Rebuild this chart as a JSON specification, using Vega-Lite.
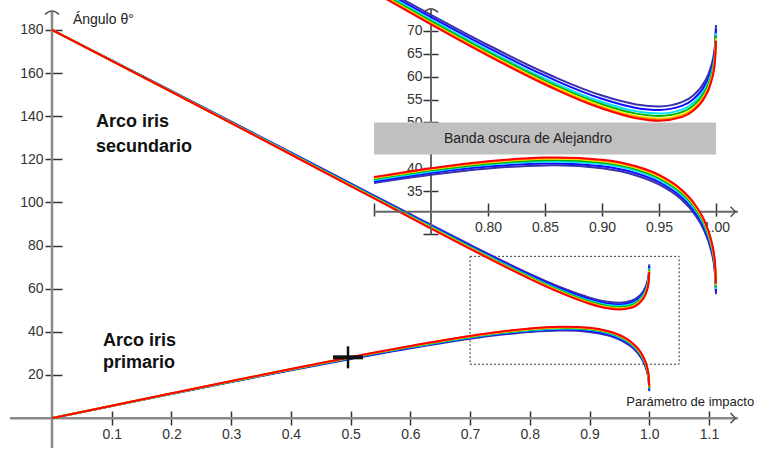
{
  "$schema": "https://vega.github.io/schema/vega-lite/v6.json",
  "width": 758,
  "height": 450,
  "autosize": {"type": "fit", "contains": "padding"},
  "padding": 0,
  "background": "white",
  "config": {
    "view": {"stroke": null},
    "font": "Liberation Sans",
    "axis": {"grid": false, "domain": false, "labelFont": "Liberation Sans", "labelFontSize": 14, "labelColor": "#333333", "tickColor": "#333333", "tickWidth": 1.5, "labelFlush": false, "labelOverlap": false}
  },
  "datasets": {
    "curves": [
      {"c":"violet","b":0,"p":0,"s":180},{"c":"violet","b":0.1,"p":5.60,"s":165.86},{"c":"violet","b":0.2,"p":11.18,"s":151.69},{"c":"violet","b":0.3,"p":16.71,"s":137.47},{"c":"violet","b":0.4,"p":22.15,"s":123.20},{"c":"violet","b":0.5,"p":27.42,"s":108.86},{"c":"violet","b":0.6,"p":32.40,"s":94.53},{"c":"violet","b":0.7,"p":36.79,"s":80.38},{"c":"violet","b":0.75,"p":38.60,"s":73.50},{"c":"violet","b":0.8,"p":39.97,"s":66.91},{"c":"violet","b":0.85,"p":40.62,"s":60.85},{"c":"violet","b":0.86,"p":40.63,"s":59.74},{"c":"violet","b":0.9,"p":39.98,"s":55.87},{"c":"violet","b":0.93,"p":38.42,"s":53.94},{"c":"violet","b":0.95,"p":36.46,"s":53.51},{"c":"violet","b":0.97,"p":33.09,"s":54.44},{"c":"violet","b":0.98,"p":30.38,"s":55.90},{"c":"violet","b":0.99,"p":26.16,"s":58.88},{"c":"violet","b":0.995,"p":22.67,"s":61.73},{"c":"violet","b":0.999,"p":17.35,"s":66.54},{"c":"violet","b":1.0,"p":12.48,"s":71.29},
      {"c":"blue","b":0,"p":0,"s":180},{"c":"blue","b":0.1,"p":5.64,"s":165.80},{"c":"blue","b":0.2,"p":11.26,"s":151.57},{"c":"blue","b":0.3,"p":16.83,"s":137.30},{"c":"blue","b":0.4,"p":22.31,"s":122.95},{"c":"blue","b":0.5,"p":27.63,"s":108.55},{"c":"blue","b":0.6,"p":32.66,"s":94.14},{"c":"blue","b":0.7,"p":37.11,"s":79.91},{"c":"blue","b":0.75,"p":38.96,"s":72.98},{"c":"blue","b":0.8,"p":40.36,"s":66.33},{"c":"blue","b":0.85,"p":41.05,"s":60.21},{"c":"blue","b":0.86,"p":41.06,"s":59.09},{"c":"blue","b":0.9,"p":40.45,"s":55.17},{"c":"blue","b":0.93,"p":38.92,"s":53.18},{"c":"blue","b":0.95,"p":36.98,"s":52.73},{"c":"blue","b":0.97,"p":33.63,"s":53.62},{"c":"blue","b":0.98,"p":30.94,"s":55.07},{"c":"blue","b":0.99,"p":26.73,"s":58.02},{"c":"blue","b":0.995,"p":23.25,"s":60.87},{"c":"blue","b":0.999,"p":17.93,"s":65.67},{"c":"blue","b":1.0,"p":13.06,"s":70.41},
      {"c":"cyan","b":0,"p":0,"s":180},{"c":"cyan","b":0.1,"p":5.68,"s":165.74},{"c":"cyan","b":0.2,"p":11.34,"s":151.46},{"c":"cyan","b":0.3,"p":16.95,"s":137.12},{"c":"cyan","b":0.4,"p":22.48,"s":122.71},{"c":"cyan","b":0.5,"p":27.84,"s":108.24},{"c":"cyan","b":0.6,"p":32.92,"s":93.75},{"c":"cyan","b":0.7,"p":37.43,"s":79.43},{"c":"cyan","b":0.75,"p":39.31,"s":72.45},{"c":"cyan","b":0.8,"p":40.75,"s":65.75},{"c":"cyan","b":0.85,"p":41.48,"s":59.57},{"c":"cyan","b":0.86,"p":41.50,"s":58.44},{"c":"cyan","b":0.9,"p":40.92,"s":54.46},{"c":"cyan","b":0.93,"p":39.43,"s":52.43},{"c":"cyan","b":0.95,"p":37.50,"s":51.94},{"c":"cyan","b":0.97,"p":34.18,"s":52.80},{"c":"cyan","b":0.98,"p":31.50,"s":54.23},{"c":"cyan","b":0.99,"p":27.30,"s":57.16},{"c":"cyan","b":0.995,"p":23.82,"s":60.00},{"c":"cyan","b":0.999,"p":18.51,"s":64.79},{"c":"cyan","b":1.0,"p":13.65,"s":69.53},
      {"c":"green","b":0,"p":0,"s":180},{"c":"green","b":0.1,"p":5.71,"s":165.70},{"c":"green","b":0.2,"p":11.39,"s":151.38},{"c":"green","b":0.3,"p":17.03,"s":137.00},{"c":"green","b":0.4,"p":22.58,"s":122.55},{"c":"green","b":0.5,"p":27.98,"s":108.03},{"c":"green","b":0.6,"p":33.09,"s":93.49},{"c":"green","b":0.7,"p":37.64,"s":79.11},{"c":"green","b":0.75,"p":39.54,"s":72.10},{"c":"green","b":0.8,"p":41.00,"s":65.36},{"c":"green","b":0.85,"p":41.76,"s":59.15},{"c":"green","b":0.86,"p":41.79,"s":58.00},{"c":"green","b":0.9,"p":41.24,"s":53.99},{"c":"green","b":0.93,"p":39.76,"s":51.93},{"c":"green","b":0.95,"p":37.85,"s":51.42},{"c":"green","b":0.97,"p":34.54,"s":52.25},{"c":"green","b":0.98,"p":31.88,"s":53.67},{"c":"green","b":0.99,"p":27.68,"s":56.59},{"c":"green","b":0.995,"p":24.21,"s":59.42},{"c":"green","b":0.999,"p":18.90,"s":64.21},{"c":"green","b":1.0,"p":14.04,"s":68.95},
      {"c":"yellow","b":0,"p":0,"s":180},{"c":"yellow","b":0.1,"p":5.73,"s":165.67},{"c":"yellow","b":0.2,"p":11.44,"s":151.30},{"c":"yellow","b":0.3,"p":17.11,"s":136.88},{"c":"yellow","b":0.4,"p":22.69,"s":122.38},{"c":"yellow","b":0.5,"p":28.12,"s":107.82},{"c":"yellow","b":0.6,"p":33.26,"s":93.23},{"c":"yellow","b":0.7,"p":37.85,"s":78.79},{"c":"yellow","b":0.75,"p":39.77,"s":71.75},{"c":"yellow","b":0.8,"p":41.26,"s":64.98},{"c":"yellow","b":0.85,"p":42.05,"s":58.72},{"c":"yellow","b":0.86,"p":42.08,"s":57.57},{"c":"yellow","b":0.9,"p":41.55,"s":53.51},{"c":"yellow","b":0.93,"p":40.09,"s":51.42},{"c":"yellow","b":0.95,"p":38.20,"s":50.89},{"c":"yellow","b":0.97,"p":34.91,"s":51.71},{"c":"yellow","b":0.98,"p":32.25,"s":53.11},{"c":"yellow","b":0.99,"p":28.06,"s":56.02},{"c":"yellow","b":0.995,"p":24.60,"s":58.84},{"c":"yellow","b":0.999,"p":19.29,"s":63.63},{"c":"yellow","b":1.0,"p":14.43,"s":68.36},
      {"c":"orange","b":0,"p":0,"s":180},{"c":"orange","b":0.1,"p":5.74,"s":165.65},{"c":"orange","b":0.2,"p":11.47,"s":151.26},{"c":"orange","b":0.3,"p":17.15,"s":136.82},{"c":"orange","b":0.4,"p":22.75,"s":122.30},{"c":"orange","b":0.5,"p":28.19,"s":107.72},{"c":"orange","b":0.6,"p":33.35,"s":93.10},{"c":"orange","b":0.7,"p":37.96,"s":78.63},{"c":"orange","b":0.75,"p":39.89,"s":71.57},{"c":"orange","b":0.8,"p":41.39,"s":64.78},{"c":"orange","b":0.85,"p":42.19,"s":58.51},{"c":"orange","b":0.86,"p":42.22,"s":57.35},{"c":"orange","b":0.9,"p":41.71,"s":53.28},{"c":"orange","b":0.93,"p":40.26,"s":51.17},{"c":"orange","b":0.95,"p":38.38,"s":50.63},{"c":"orange","b":0.97,"p":35.09,"s":51.43},{"c":"orange","b":0.98,"p":32.43,"s":52.83},{"c":"orange","b":0.99,"p":28.25,"s":55.73},{"c":"orange","b":0.995,"p":24.79,"s":58.55},{"c":"orange","b":0.999,"p":19.49,"s":63.33},{"c":"orange","b":1.0,"p":14.62,"s":68.07},
      {"c":"red","b":0,"p":0,"s":180},{"c":"red","b":0.1,"p":5.76,"s":165.63},{"c":"red","b":0.2,"p":11.49,"s":151.22},{"c":"red","b":0.3,"p":17.19,"s":136.76},{"c":"red","b":0.4,"p":22.80,"s":122.22},{"c":"red","b":0.5,"p":28.26,"s":107.61},{"c":"red","b":0.6,"p":33.44,"s":92.97},{"c":"red","b":0.7,"p":38.07,"s":78.47},{"c":"red","b":0.75,"p":40.01,"s":71.40},{"c":"red","b":0.8,"p":41.52,"s":64.59},{"c":"red","b":0.85,"p":42.33,"s":58.29},{"c":"red","b":0.86,"p":42.37,"s":57.13},{"c":"red","b":0.9,"p":41.87,"s":53.04},{"c":"red","b":0.93,"p":40.43,"s":50.92},{"c":"red","b":0.95,"p":38.55,"s":50.37},{"c":"red","b":0.97,"p":35.27,"s":51.16},{"c":"red","b":0.98,"p":32.62,"s":52.55},{"c":"red","b":0.99,"p":28.44,"s":55.45},{"c":"red","b":0.995,"p":24.98,"s":58.26},{"c":"red","b":0.999,"p":19.68,"s":63.04},{"c":"red","b":1.0,"p":14.82,"s":67.78}
    ],
    "one": [{}]
  },
  "layer": [
    {
      "layer": [
        {
          "data": {"name": "one"},
          "mark": {"type": "rule", "color": "#8a8a8a", "strokeWidth": 2.5},
          "encoding": {
            "x": {"datum": -0.0704, "type": "quantitative", "scale": {"domain": [-0.08706, 1.18205], "nice": false, "zero": false}, "axis": {"orient": "bottom", "offset": -37, "values": [0.1,0.2,0.3,0.4,0.5,0.6,0.7,0.8,0.9,1.0,1.1], "format": ".1f", "tickSize": 14, "labelPadding": 2, "title": null}},
            "x2": {"datum": 1.1486},
            "y": {"datum": 0, "type": "quantitative", "scale": {"domain": [-13.846, 193.846], "nice": false, "zero": false}, "axis": {"orient": "left", "offset": -62, "values": [20,40,60,80,100,120,140,160,180], "tickSize": 17, "labelPadding": 2, "title": null}}
          }
        },
        {
          "data": {"name": "one"},
          "mark": {"type": "rule", "color": "#8a8a8a", "strokeWidth": 2.5},
          "encoding": {
            "x": {"datum": 0, "type": "quantitative", "scale": {"domain": [-0.08706, 1.18205], "nice": false, "zero": false}, "axis": {"orient": "bottom", "offset": -37, "values": [0.1,0.2,0.3,0.4,0.5,0.6,0.7,0.8,0.9,1.0,1.1], "format": ".1f", "tickSize": 14, "labelPadding": 2, "title": null}},
            "y": {"datum": -13.846, "type": "quantitative", "scale": {"domain": [-13.846, 193.846], "nice": false, "zero": false}, "axis": {"orient": "left", "offset": -62, "values": [20,40,60,80,100,120,140,160,180], "tickSize": 17, "labelPadding": 2, "title": null}},
            "y2": {"datum": 188.3}
          }
        },
        {
          "data": {"name": "one"},
          "mark": {"type": "point", "shape": "M-1,0.5 Q0,-0.5 1,0.5", "size": 196, "filled": false, "stroke": "#555555", "strokeWidth": 1.5, "opacity": 1},
          "encoding": {
            "x": {"datum": 0, "type": "quantitative", "scale": {"domain": [-0.08706, 1.18205], "nice": false, "zero": false}, "axis": {"orient": "bottom", "offset": -37, "values": [0.1,0.2,0.3,0.4,0.5,0.6,0.7,0.8,0.9,1.0,1.1], "format": ".1f", "tickSize": 14, "labelPadding": 2, "title": null}},
            "y": {"datum": 188.77, "type": "quantitative", "scale": {"domain": [-13.846, 193.846], "nice": false, "zero": false}, "axis": {"orient": "left", "offset": -62, "values": [20,40,60,80,100,120,140,160,180], "tickSize": 17, "labelPadding": 2, "title": null}}
          }
        },
        {
          "data": {"name": "one"},
          "mark": {"type": "point", "shape": "M-0.5,-1 L0.5,0 L-0.5,1", "size": 100, "filled": false, "stroke": "#555555", "strokeWidth": 1.5, "opacity": 1},
          "encoding": {
            "x": {"datum": 1.1402, "type": "quantitative", "scale": {"domain": [-0.08706, 1.18205], "nice": false, "zero": false}, "axis": {"orient": "bottom", "offset": -37, "values": [0.1,0.2,0.3,0.4,0.5,0.6,0.7,0.8,0.9,1.0,1.1], "format": ".1f", "tickSize": 14, "labelPadding": 2, "title": null}},
            "y": {"datum": 0, "type": "quantitative", "scale": {"domain": [-13.846, 193.846], "nice": false, "zero": false}, "axis": {"orient": "left", "offset": -62, "values": [20,40,60,80,100,120,140,160,180], "tickSize": 17, "labelPadding": 2, "title": null}}
          }
        },
        {
          "data": {"name": "one"},
          "mark": {"type": "rect", "filled": false, "stroke": "#333333", "strokeWidth": 1, "strokeDash": [2, 2]},
          "encoding": {
            "x": {"datum": 0.7, "type": "quantitative", "scale": {"domain": [-0.08706, 1.18205], "nice": false, "zero": false}, "axis": {"orient": "bottom", "offset": -37, "values": [0.1,0.2,0.3,0.4,0.5,0.6,0.7,0.8,0.9,1.0,1.1], "format": ".1f", "tickSize": 14, "labelPadding": 2, "title": null}},
            "x2": {"datum": 1.05},
            "y": {"datum": 25, "type": "quantitative", "scale": {"domain": [-13.846, 193.846], "nice": false, "zero": false}, "axis": {"orient": "left", "offset": -62, "values": [20,40,60,80,100,120,140,160,180], "tickSize": 17, "labelPadding": 2, "title": null}},
            "y2": {"datum": 75}
          }
        },
        {
          "data": {"name": "curves"},
          "mark": {"type": "line", "strokeWidth": 2, "interpolate": "monotone", "clip": true},
          "encoding": {
            "x": {"field": "b", "type": "quantitative", "scale": {"domain": [-0.08706, 1.18205], "nice": false, "zero": false}, "axis": {"orient": "bottom", "offset": -37, "values": [0.1,0.2,0.3,0.4,0.5,0.6,0.7,0.8,0.9,1.0,1.1], "format": ".1f", "tickSize": 14, "labelPadding": 2, "title": null}},
            "y": {"field": "p", "type": "quantitative", "scale": {"domain": [-13.846, 193.846], "nice": false, "zero": false}, "axis": {"orient": "left", "offset": -62, "values": [20,40,60,80,100,120,140,160,180], "tickSize": 17, "labelPadding": 2, "title": null}},
            "color": {"field": "c", "type": "nominal", "legend": null, "scale": {"domain": ["violet","blue","cyan","green","yellow","orange","red"], "range": ["#3a32a8","#1010ff","#00e0ff","#00b400","#ffee00","#ff9000","#ff0000"]}}
          }
        },
        {
          "data": {"name": "curves"},
          "mark": {"type": "line", "strokeWidth": 2, "interpolate": "monotone", "clip": true},
          "encoding": {
            "x": {"field": "b", "type": "quantitative", "scale": {"domain": [-0.08706, 1.18205], "nice": false, "zero": false}, "axis": {"orient": "bottom", "offset": -37, "values": [0.1,0.2,0.3,0.4,0.5,0.6,0.7,0.8,0.9,1.0,1.1], "format": ".1f", "tickSize": 14, "labelPadding": 2, "title": null}},
            "y": {"field": "s", "type": "quantitative", "scale": {"domain": [-13.846, 193.846], "nice": false, "zero": false}, "axis": {"orient": "left", "offset": -62, "values": [20,40,60,80,100,120,140,160,180], "tickSize": 17, "labelPadding": 2, "title": null}},
            "color": {"field": "c", "type": "nominal", "legend": null, "scale": {"domain": ["violet","blue","cyan","green","yellow","orange","red"], "range": ["#3a32a8","#1010ff","#00e0ff","#00b400","#ffee00","#ff9000","#ff0000"]}}
          }
        },
        {
          "data": {"name": "one"},
          "mark": {"type": "point", "shape": "M-1,0 L1,0", "size": 900, "filled": false, "stroke": "#111111", "strokeWidth": 4, "opacity": 1},
          "encoding": {
            "x": {"datum": 0.4956, "type": "quantitative", "scale": {"domain": [-0.08706, 1.18205], "nice": false, "zero": false}, "axis": {"orient": "bottom", "offset": -37, "values": [0.1,0.2,0.3,0.4,0.5,0.6,0.7,0.8,0.9,1.0,1.1], "format": ".1f", "tickSize": 14, "labelPadding": 2, "title": null}},
            "y": {"datum": 28.2, "type": "quantitative", "scale": {"domain": [-13.846, 193.846], "nice": false, "zero": false}, "axis": {"orient": "left", "offset": -62, "values": [20,40,60,80,100,120,140,160,180], "tickSize": 17, "labelPadding": 2, "title": null}}
          }
        },
        {
          "data": {"name": "one"},
          "mark": {"type": "point", "shape": "M0,-1 L0,1", "size": 484, "filled": false, "stroke": "#111111", "strokeWidth": 2.5, "opacity": 1},
          "encoding": {
            "x": {"datum": 0.4956, "type": "quantitative", "scale": {"domain": [-0.08706, 1.18205], "nice": false, "zero": false}, "axis": {"orient": "bottom", "offset": -37, "values": [0.1,0.2,0.3,0.4,0.5,0.6,0.7,0.8,0.9,1.0,1.1], "format": ".1f", "tickSize": 14, "labelPadding": 2, "title": null}},
            "y": {"datum": 28.2, "type": "quantitative", "scale": {"domain": [-13.846, 193.846], "nice": false, "zero": false}, "axis": {"orient": "left", "offset": -62, "values": [20,40,60,80,100,120,140,160,180], "tickSize": 17, "labelPadding": 2, "title": null}}
          }
        },
        {
          "data": {"name": "one"},
          "mark": {"type": "text", "text": ["Arco iris", "secundario"], "font": "Liberation Sans", "fontWeight": "bold", "fontSize": 18, "align": "left", "baseline": "alphabetic", "lineHeight": 25, "color": "#111111"},
          "encoding": {
            "x": {"datum": 0.0737, "type": "quantitative", "scale": {"domain": [-0.08706, 1.18205], "nice": false, "zero": false}, "axis": {"orient": "bottom", "offset": -37, "values": [0.1,0.2,0.3,0.4,0.5,0.6,0.7,0.8,0.9,1.0,1.1], "format": ".1f", "tickSize": 14, "labelPadding": 2, "title": null}},
            "y": {"datum": 134.77, "type": "quantitative", "scale": {"domain": [-13.846, 193.846], "nice": false, "zero": false}, "axis": {"orient": "left", "offset": -62, "values": [20,40,60,80,100,120,140,160,180], "tickSize": 17, "labelPadding": 2, "title": null}}
          }
        },
        {
          "data": {"name": "one"},
          "mark": {"type": "text", "text": ["Arco iris", "primario"], "font": "Liberation Sans", "fontWeight": "bold", "fontSize": 18, "align": "left", "baseline": "alphabetic", "lineHeight": 22, "color": "#111111"},
          "encoding": {
            "x": {"datum": 0.0854, "type": "quantitative", "scale": {"domain": [-0.08706, 1.18205], "nice": false, "zero": false}, "axis": {"orient": "bottom", "offset": -37, "values": [0.1,0.2,0.3,0.4,0.5,0.6,0.7,0.8,0.9,1.0,1.1], "format": ".1f", "tickSize": 14, "labelPadding": 2, "title": null}},
            "y": {"datum": 33.23, "type": "quantitative", "scale": {"domain": [-13.846, 193.846], "nice": false, "zero": false}, "axis": {"orient": "left", "offset": -62, "values": [20,40,60,80,100,120,140,160,180], "tickSize": 17, "labelPadding": 2, "title": null}}
          }
        },
        {
          "data": {"name": "one"},
          "mark": {"type": "text", "text": "Ángulo θ°", "font": "Liberation Sans", "fontSize": 14, "align": "left", "baseline": "alphabetic", "color": "#222222"},
          "encoding": {
            "x": {"datum": 0.035, "type": "quantitative", "scale": {"domain": [-0.08706, 1.18205], "nice": false, "zero": false}, "axis": {"orient": "bottom", "offset": -37, "values": [0.1,0.2,0.3,0.4,0.5,0.6,0.7,0.8,0.9,1.0,1.1], "format": ".1f", "tickSize": 14, "labelPadding": 2, "title": null}},
            "y": {"datum": 182.77, "type": "quantitative", "scale": {"domain": [-13.846, 193.846], "nice": false, "zero": false}, "axis": {"orient": "left", "offset": -62, "values": [20,40,60,80,100,120,140,160,180], "tickSize": 17, "labelPadding": 2, "title": null}}
          }
        },
        {
          "data": {"name": "one"},
          "mark": {"type": "text", "text": "Parámetro de impacto", "font": "Liberation Sans", "fontSize": 13, "align": "left", "baseline": "alphabetic", "color": "#222222"},
          "encoding": {
            "x": {"datum": 0.9615, "type": "quantitative", "scale": {"domain": [-0.08706, 1.18205], "nice": false, "zero": false}, "axis": {"orient": "bottom", "offset": -37, "values": [0.1,0.2,0.3,0.4,0.5,0.6,0.7,0.8,0.9,1.0,1.1], "format": ".1f", "tickSize": 14, "labelPadding": 2, "title": null}},
            "y": {"datum": 5.5, "type": "quantitative", "scale": {"domain": [-13.846, 193.846], "nice": false, "zero": false}, "axis": {"orient": "left", "offset": -62, "values": [20,40,60,80,100,120,140,160,180], "tickSize": 17, "labelPadding": 2, "title": null}}
          }
        }
      ]
    },
    {
      "layer": [
        {
          "data": {"name": "one"},
          "mark": {"type": "rule", "color": "#666666", "strokeWidth": 2},
          "encoding": {
            "x": {"datum": 0.70, "type": "quantitative", "scale": {"domain": [0.37193, 1.036842], "nice": false, "zero": false}, "axis": {"orient": "bottom", "offset": -245, "values": [0.70,0.80,0.85,0.90,0.95,1.00], "labelExpr": "datum.value < 0.75 ? '' : format(datum.value, '.2f')", "tickSize": 13, "labelPadding": 4, "title": null}},
            "x2": {"datum": 1.0193},
            "y": {"datum": 30.5, "type": "quantitative", "scale": {"domain": [-21.087, 76.739], "nice": false, "zero": false}, "axis": {"orient": "left", "offset": -438, "values": [25.6,35,40,45,50,55,60,65,70], "labelExpr": "datum.value < 30 ? '' : format(datum.value, 'd')", "tickSize": 15, "labelPadding": 1, "title": null}}
          }
        },
        {
          "data": {"name": "one"},
          "mark": {"type": "rule", "color": "#666666", "strokeWidth": 2},
          "encoding": {
            "x": {"datum": 0.75, "type": "quantitative", "scale": {"domain": [0.37193, 1.036842], "nice": false, "zero": false}, "axis": {"orient": "bottom", "offset": -245, "values": [0.70,0.80,0.85,0.90,0.95,1.00], "labelExpr": "datum.value < 0.75 ? '' : format(datum.value, '.2f')", "tickSize": 13, "labelPadding": 4, "title": null}},
            "y": {"datum": 25.6, "type": "quantitative", "scale": {"domain": [-21.087, 76.739], "nice": false, "zero": false}, "axis": {"orient": "left", "offset": -438, "values": [25.6,35,40,45,50,55,60,65,70], "labelExpr": "datum.value < 30 ? '' : format(datum.value, 'd')", "tickSize": 15, "labelPadding": 1, "title": null}},
            "y2": {"datum": 74.6}
          }
        },
        {
          "data": {"name": "one"},
          "mark": {"type": "point", "shape": "M-1,0.5 Q0,-0.5 1,0.5", "size": 196, "filled": false, "stroke": "#555555", "strokeWidth": 1.5, "opacity": 1},
          "encoding": {
            "x": {"datum": 0.75, "type": "quantitative", "scale": {"domain": [0.37193, 1.036842], "nice": false, "zero": false}, "axis": {"orient": "bottom", "offset": -245, "values": [0.70,0.80,0.85,0.90,0.95,1.00], "labelExpr": "datum.value < 0.75 ? '' : format(datum.value, '.2f')", "tickSize": 13, "labelPadding": 4, "title": null}},
            "y": {"datum": 74.8, "type": "quantitative", "scale": {"domain": [-21.087, 76.739], "nice": false, "zero": false}, "axis": {"orient": "left", "offset": -438, "values": [25.6,35,40,45,50,55,60,65,70], "labelExpr": "datum.value < 30 ? '' : format(datum.value, 'd')", "tickSize": 15, "labelPadding": 1, "title": null}}
          }
        },
        {
          "data": {"name": "one"},
          "mark": {"type": "point", "shape": "M-0.5,-1 L0.5,0 L-0.5,1", "size": 100, "filled": false, "stroke": "#555555", "strokeWidth": 1.5, "opacity": 1},
          "encoding": {
            "x": {"datum": 1.0149, "type": "quantitative", "scale": {"domain": [0.37193, 1.036842], "nice": false, "zero": false}, "axis": {"orient": "bottom", "offset": -245, "values": [0.70,0.80,0.85,0.90,0.95,1.00], "labelExpr": "datum.value < 0.75 ? '' : format(datum.value, '.2f')", "tickSize": 13, "labelPadding": 4, "title": null}},
            "y": {"datum": 30.5, "type": "quantitative", "scale": {"domain": [-21.087, 76.739], "nice": false, "zero": false}, "axis": {"orient": "left", "offset": -438, "values": [25.6,35,40,45,50,55,60,65,70], "labelExpr": "datum.value < 30 ? '' : format(datum.value, 'd')", "tickSize": 15, "labelPadding": 1, "title": null}}
          }
        },
        {
          "data": {"name": "one"},
          "mark": {"type": "rect", "color": "#c0c0c0", "opacity": 1},
          "encoding": {
            "x": {"datum": 0.70, "type": "quantitative", "scale": {"domain": [0.37193, 1.036842], "nice": false, "zero": false}, "axis": {"orient": "bottom", "offset": -245, "values": [0.70,0.80,0.85,0.90,0.95,1.00], "labelExpr": "datum.value < 0.75 ? '' : format(datum.value, '.2f')", "tickSize": 13, "labelPadding": 4, "title": null}},
            "x2": {"datum": 1.0},
            "y": {"datum": 43, "type": "quantitative", "scale": {"domain": [-21.087, 76.739], "nice": false, "zero": false}, "axis": {"orient": "left", "offset": -438, "values": [25.6,35,40,45,50,55,60,65,70], "labelExpr": "datum.value < 30 ? '' : format(datum.value, 'd')", "tickSize": 15, "labelPadding": 1, "title": null}},
            "y2": {"datum": 50}
          }
        },
        {
          "data": {"name": "one"},
          "mark": {"type": "text", "text": "Banda oscura de Alejandro", "font": "Liberation Sans", "fontSize": 14, "align": "center", "baseline": "middle", "color": "#222222"},
          "encoding": {
            "x": {"datum": 0.8351, "type": "quantitative", "scale": {"domain": [0.37193, 1.036842], "nice": false, "zero": false}, "axis": {"orient": "bottom", "offset": -245, "values": [0.70,0.80,0.85,0.90,0.95,1.00], "labelExpr": "datum.value < 0.75 ? '' : format(datum.value, '.2f')", "tickSize": 13, "labelPadding": 4, "title": null}},
            "y": {"datum": 46.3, "type": "quantitative", "scale": {"domain": [-21.087, 76.739], "nice": false, "zero": false}, "axis": {"orient": "left", "offset": -438, "values": [25.6,35,40,45,50,55,60,65,70], "labelExpr": "datum.value < 30 ? '' : format(datum.value, 'd')", "tickSize": 15, "labelPadding": 1, "title": null}}
          }
        },
        {
          "data": {"name": "curves"},
          "transform": [{"filter": "datum.b >= 0.7"}],
          "mark": {"type": "line", "strokeWidth": 2, "interpolate": "monotone", "clip": true},
          "encoding": {
            "x": {"field": "b", "type": "quantitative", "scale": {"domain": [0.37193, 1.036842], "nice": false, "zero": false}, "axis": {"orient": "bottom", "offset": -245, "values": [0.70,0.80,0.85,0.90,0.95,1.00], "labelExpr": "datum.value < 0.75 ? '' : format(datum.value, '.2f')", "tickSize": 13, "labelPadding": 4, "title": null}},
            "y": {"field": "p", "type": "quantitative", "scale": {"domain": [-21.087, 76.739], "nice": false, "zero": false}, "axis": {"orient": "left", "offset": -438, "values": [25.6,35,40,45,50,55,60,65,70], "labelExpr": "datum.value < 30 ? '' : format(datum.value, 'd')", "tickSize": 15, "labelPadding": 1, "title": null}},
            "color": {"field": "c", "type": "nominal", "legend": null, "scale": {"domain": ["violet","blue","cyan","green","yellow","orange","red"], "range": ["#3a32a8","#1010ff","#00e0ff","#00b400","#ffee00","#ff9000","#ff0000"]}}
          }
        },
        {
          "data": {"name": "curves"},
          "transform": [{"filter": "datum.b >= 0.7"}],
          "mark": {"type": "line", "strokeWidth": 2, "interpolate": "monotone", "clip": true},
          "encoding": {
            "x": {"field": "b", "type": "quantitative", "scale": {"domain": [0.37193, 1.036842], "nice": false, "zero": false}, "axis": {"orient": "bottom", "offset": -245, "values": [0.70,0.80,0.85,0.90,0.95,1.00], "labelExpr": "datum.value < 0.75 ? '' : format(datum.value, '.2f')", "tickSize": 13, "labelPadding": 4, "title": null}},
            "y": {"field": "s", "type": "quantitative", "scale": {"domain": [-21.087, 76.739], "nice": false, "zero": false}, "axis": {"orient": "left", "offset": -438, "values": [25.6,35,40,45,50,55,60,65,70], "labelExpr": "datum.value < 30 ? '' : format(datum.value, 'd')", "tickSize": 15, "labelPadding": 1, "title": null}},
            "color": {"field": "c", "type": "nominal", "legend": null, "scale": {"domain": ["violet","blue","cyan","green","yellow","orange","red"], "range": ["#3a32a8","#1010ff","#00e0ff","#00b400","#ffee00","#ff9000","#ff0000"]}}
          }
        }
      ]
    }
  ],
  "resolve": {"scale": {"x": "independent", "y": "independent"}}
}
